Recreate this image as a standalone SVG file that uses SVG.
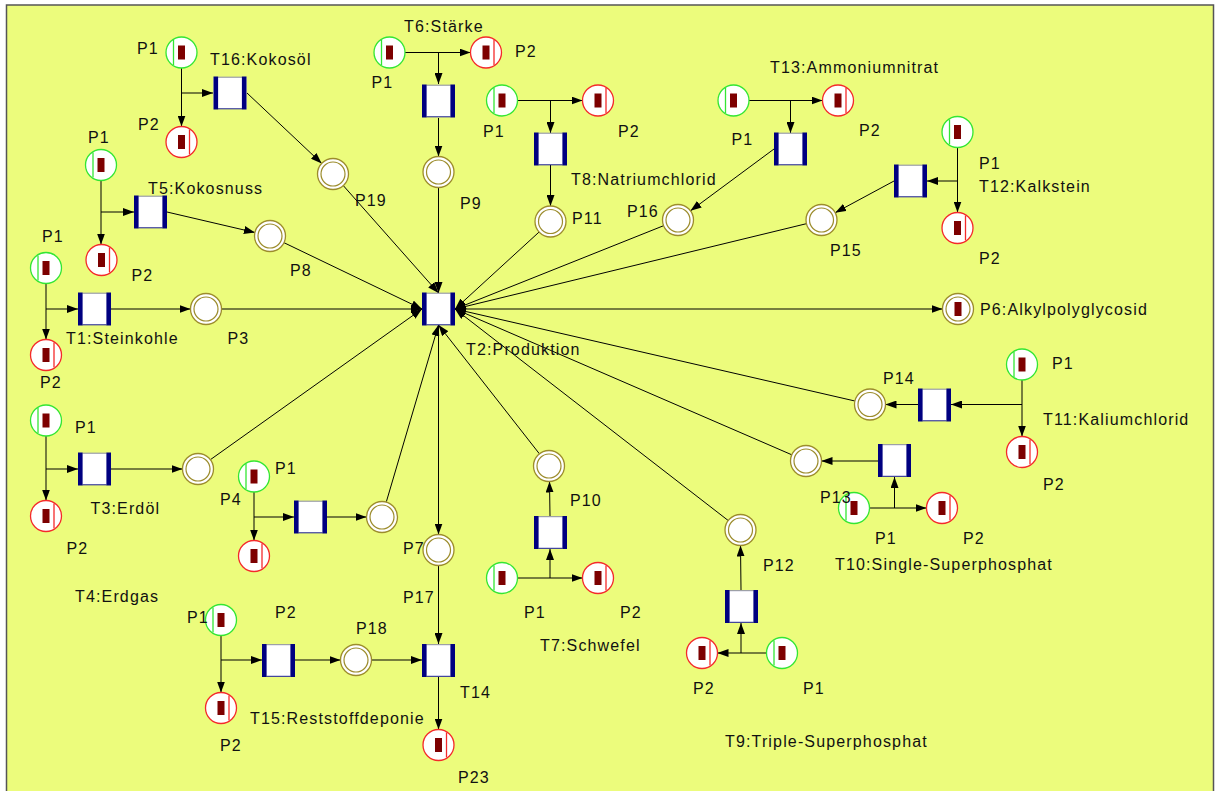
<svg xmlns="http://www.w3.org/2000/svg" width="1216" height="791" viewBox="0 0 1216 791">
  <style>
    .bg { fill: #ECFC7C; stroke: #555; stroke-width: 1.5; }
    .arc { fill: none; stroke: #000; stroke-width: 1; marker-end: url(#ah); }
    .lbl { font-family: "Liberation Sans", Arial, sans-serif; font-size: 16px; letter-spacing: 1.15px; fill: #111; }
    .ring { fill: #fff; stroke: #9c8c2c; stroke-width: 1.3; }
    .ring2 { fill: none; stroke: #9c8c2c; stroke-width: 1.2; }
    .pg { fill: #fff; stroke: #33e633; stroke-width: 1.3; }
    .pr { fill: #fff; stroke: #f42a2a; stroke-width: 1.3; }
    .tok { fill: #7d0000; }
    .tbox { fill: #fff; }
    .tbar { fill: #000080; }
  </style>
  <defs>
    <marker id="ah" markerUnits="userSpaceOnUse" markerWidth="11" markerHeight="8" refX="11" refY="4" orient="auto">
      <path d="M0,0 L11,4 L0,8 Z" fill="#000"/>
    </marker>
    <!-- marked start place: green ring, bar on the left, one token -->
    <g id="placeGreen">
      <circle r="15.5" class="pg"/>
      <line x1="-8" y1="-12.5" x2="-8" y2="12.5" stroke="#33e633" stroke-width="1.3"/>
      <rect x="-3.5" y="-7" width="7" height="14" class="tok"/>
    </g>
    <!-- marked end place: red ring, bar on the right, one token -->
    <g id="placeRed">
      <circle r="15.5" class="pr"/>
      <line x1="8" y1="-12.5" x2="8" y2="12.5" stroke="#f42a2a" stroke-width="1.3"/>
      <rect x="-3.5" y="-7" width="7" height="14" class="tok"/>
    </g>
    <!-- intermediate place: double olive ring -->
    <g id="placeEmpty">
      <circle r="15.5" class="ring"/>
      <circle r="12" class="ring2"/>
    </g>
    <g id="placeProduct">
      <circle r="15.5" class="ring"/>
      <circle r="12" class="ring2"/>
      <rect x="-3.5" y="-7" width="7" height="14" class="tok"/>
    </g>
    <!-- transition box with navy side bars -->
    <g id="trans">
      <rect x="-16.5" y="-15.5" width="33" height="31" class="tbox"/>
      <line x1="-12" y1="-15.8" x2="12" y2="-15.8" stroke="#8a8ab0" stroke-width="1"/>
      <line x1="-12" y1="15.8" x2="12" y2="15.8" stroke="#1a1aa0" stroke-width="1"/>
      <rect x="-16.5" y="-16.5" width="4.6" height="33" class="tbar"/>
      <rect x="11.9" y="-16.5" width="4.6" height="33" class="tbar"/>
    </g>
  </defs>

  <rect x="0" y="0" width="1216" height="791" fill="#fff"/>
  <rect x="6.5" y="5" width="1207" height="800" class="bg"/>

  <g id="connectors">
    <!-- T16 Kokosöl -->
    <line class="arc" x1="181.5" y1="68" x2="181.5" y2="126.5"/>
    <line class="arc" x1="181.5" y1="93" x2="213" y2="93"/>
    <line class="arc" x1="247" y1="93" x2="321.7" y2="163.4"/>
    <line class="arc" x1="343.3" y1="185.6" x2="438.5" y2="293"/>
    <!-- T6 Stärke -->
    <line class="arc" x1="405" y1="52.5" x2="470.5" y2="52.5"/>
    <line class="arc" x1="438.5" y1="52.5" x2="438.5" y2="84"/>
    <line class="arc" x1="438.5" y1="118" x2="438.5" y2="156.5"/>
    <line class="arc" x1="438.5" y1="187.5" x2="438.5" y2="293"/>
    <!-- T8 Natriumchlorid -->
    <line class="arc" x1="517.5" y1="100.5" x2="582.5" y2="100.5"/>
    <line class="arc" x1="550.5" y1="100.5" x2="550.5" y2="133"/>
    <line class="arc" x1="550.5" y1="165" x2="550.5" y2="206"/>
    <line class="arc" x1="539.1" y1="232" x2="455" y2="309"/>
    <!-- T13 Ammoniumnitrat -->
    <line class="arc" x1="749" y1="100.5" x2="822.5" y2="100.5"/>
    <line class="arc" x1="790.5" y1="100.5" x2="790.5" y2="133"/>
    <line class="arc" x1="774" y1="149" x2="690.5" y2="210.8"/>
    <line class="arc" x1="663.6" y1="225.7" x2="455" y2="309"/>
    <!-- T12 Kalkstein -->
    <line class="arc" x1="957.5" y1="147.5" x2="957.5" y2="212.5"/>
    <line class="arc" x1="957.5" y1="181" x2="927" y2="181"/>
    <line class="arc" x1="894" y1="181" x2="835.2" y2="212.7"/>
    <line class="arc" x1="806.4" y1="223.7" x2="455" y2="309"/>
    <!-- T5 Kokosnuss -->
    <line class="arc" x1="101" y1="180.5" x2="101" y2="244.5"/>
    <line class="arc" x1="101" y1="212" x2="134" y2="212"/>
    <line class="arc" x1="167" y1="212" x2="254.9" y2="232.5"/>
    <line class="arc" x1="284" y1="242.7" x2="422" y2="309"/>
    <!-- T1 Steinkohle -->
    <line class="arc" x1="46" y1="283.5" x2="46" y2="339.5"/>
    <line class="arc" x1="46" y1="309" x2="78" y2="309"/>
    <line class="arc" x1="111" y1="309" x2="190.5" y2="309"/>
    <line class="arc" x1="221.5" y1="309" x2="422" y2="309"/>
    <!-- T3 Erdöl -->
    <line class="arc" x1="46" y1="436" x2="46" y2="500.5"/>
    <line class="arc" x1="46" y1="469" x2="78" y2="469"/>
    <line class="arc" x1="111" y1="469" x2="182.5" y2="469"/>
    <line class="arc" x1="210.6" y1="459.5" x2="422" y2="309"/>
    <!-- T4 Erdgas -->
    <line class="arc" x1="254" y1="492" x2="254" y2="540.5"/>
    <line class="arc" x1="254" y1="517" x2="294" y2="517"/>
    <line class="arc" x1="327" y1="517" x2="366.5" y2="517"/>
    <line class="arc" x1="386.4" y1="501.6" x2="438.5" y2="325"/>
    <!-- T2 Produktion outputs -->
    <line class="arc" x1="455" y1="309" x2="942.5" y2="309"/>
    <line class="arc" x1="438.5" y1="325" x2="438.5" y2="534.5"/>
    <!-- T14 / T15 Reststoffdeponie -->
    <line class="arc" x1="438.5" y1="565.5" x2="438.5" y2="644"/>
    <line class="arc" x1="221" y1="635.5" x2="221" y2="692.5"/>
    <line class="arc" x1="221" y1="660" x2="262" y2="660"/>
    <line class="arc" x1="295" y1="660" x2="340.5" y2="660"/>
    <line class="arc" x1="371.5" y1="660" x2="422" y2="660"/>
    <line class="arc" x1="438.5" y1="677" x2="438.5" y2="729.5"/>
    <!-- T7 Schwefel -->
    <line class="arc" x1="517.5" y1="578" x2="582.5" y2="578"/>
    <line class="arc" x1="550" y1="578" x2="550" y2="549"/>
    <line class="arc" x1="550" y1="516" x2="549.5" y2="481.5"/>
    <line class="arc" x1="539.4" y1="453.8" x2="438.5" y2="325"/>
    <!-- T9 Triple-Superphosphat -->
    <line class="arc" x1="766.5" y1="653" x2="717.5" y2="653"/>
    <line class="arc" x1="741" y1="653" x2="741" y2="623"/>
    <line class="arc" x1="741" y1="590" x2="740.5" y2="545.5"/>
    <line class="arc" x1="728.2" y1="520.5" x2="455" y2="309"/>
    <!-- T10 Single-Superphosphat -->
    <line class="arc" x1="869.5" y1="508" x2="926.5" y2="508"/>
    <line class="arc" x1="894.5" y1="508" x2="894.5" y2="477"/>
    <line class="arc" x1="878" y1="461" x2="821.5" y2="461"/>
    <line class="arc" x1="791.8" y1="454.8" x2="455" y2="309"/>
    <!-- T11 Kaliumchlorid -->
    <line class="arc" x1="1022" y1="380" x2="1022" y2="436.5"/>
    <line class="arc" x1="1022" y1="404.5" x2="951" y2="404.5"/>
    <line class="arc" x1="918" y1="404.5" x2="885.5" y2="404.5"/>
    <line class="arc" x1="854.9" y1="401" x2="455" y2="309"/>
  </g>

  <!-- central transition -->
  <g id="T2">
    <use href="#trans" x="438.5" y="309"/>
    <text class="lbl" x="466" y="355">T2:Produktion</text>
  </g>
  <g id="P6">
    <use href="#placeProduct" x="958" y="309"/>
    <text class="lbl" x="980" y="315">P6:Alkylpolyglycosid</text>
  </g>

  <!-- T16 Kokosöl -->
  <g id="T16-P1"><use href="#placeGreen" x="181.5" y="52.5"/><text class="lbl" x="137" y="54">P1</text></g>
  <g id="T16-P2"><use href="#placeRed" x="181.5" y="142"/><text class="lbl" x="138" y="130">P2</text></g>
  <g id="T16"><use href="#trans" x="230" y="93"/><text class="lbl" x="210" y="65">T16:Kokosöl</text></g>
  <g id="P19"><use href="#placeEmpty" x="333" y="174"/><text class="lbl" x="355" y="206">P19</text></g>

  <!-- T6 Stärke -->
  <g id="T6-P1"><use href="#placeGreen" x="389.5" y="52.5"/><text class="lbl" x="371.5" y="88">P1</text></g>
  <g id="T6-P2"><use href="#placeRed" x="486" y="52.5"/><text class="lbl" x="515" y="57">P2</text></g>
  <g id="T6"><use href="#trans" x="438.5" y="101"/><text class="lbl" x="404" y="32">T6:Stärke</text></g>
  <g id="P9"><use href="#placeEmpty" x="438.5" y="172"/><text class="lbl" x="460" y="209">P9</text></g>

  <!-- T8 Natriumchlorid -->
  <g id="T8-P1"><use href="#placeGreen" x="502" y="100.5"/><text class="lbl" x="483" y="137">P1</text></g>
  <g id="T8-P2"><use href="#placeRed" x="598" y="100.5"/><text class="lbl" x="618" y="137">P2</text></g>
  <g id="T8"><use href="#trans" x="550.5" y="149"/><text class="lbl" x="571" y="185">T8:Natriumchlorid</text></g>
  <g id="P11"><use href="#placeEmpty" x="550.5" y="221.5"/><text class="lbl" x="572" y="224">P11</text></g>

  <!-- T13 Ammoniumnitrat -->
  <g id="T13-P1"><use href="#placeGreen" x="733.5" y="100.5"/><text class="lbl" x="731.5" y="145">P1</text></g>
  <g id="T13-P2"><use href="#placeRed" x="838" y="100.5"/><text class="lbl" x="859" y="136">P2</text></g>
  <g id="T13"><use href="#trans" x="790.5" y="149"/><text class="lbl" x="770" y="73">T13:Ammoniumnitrat</text></g>
  <g id="P16"><use href="#placeEmpty" x="678" y="220"/><text class="lbl" x="627" y="217">P16</text></g>

  <!-- T12 Kalkstein -->
  <g id="T12-P1"><use href="#placeGreen" x="957.5" y="132"/><text class="lbl" x="979" y="169">P1</text></g>
  <g id="T12-P2"><use href="#placeRed" x="957.5" y="228"/><text class="lbl" x="979" y="264">P2</text></g>
  <g id="T12"><use href="#trans" x="910.5" y="181"/><text class="lbl" x="979" y="192">T12:Kalkstein</text></g>
  <g id="P15"><use href="#placeEmpty" x="821.5" y="220"/><text class="lbl" x="830" y="256">P15</text></g>

  <!-- T5 Kokosnuss -->
  <g id="T5-P1"><use href="#placeGreen" x="101" y="165"/><text class="lbl" x="88" y="143">P1</text></g>
  <g id="T5-P2"><use href="#placeRed" x="101.5" y="260"/><text class="lbl" x="131.5" y="281">P2</text></g>
  <g id="T5"><use href="#trans" x="150.5" y="212"/><text class="lbl" x="148" y="194">T5:Kokosnuss</text></g>
  <g id="P8"><use href="#placeEmpty" x="270" y="236"/><text class="lbl" x="290" y="276">P8</text></g>

  <!-- T1 Steinkohle -->
  <g id="T1-P1"><use href="#placeGreen" x="46" y="268"/><text class="lbl" x="42" y="242">P1</text></g>
  <g id="T1-P2"><use href="#placeRed" x="46" y="355"/><text class="lbl" x="40" y="388">P2</text></g>
  <g id="T1"><use href="#trans" x="94.5" y="309"/><text class="lbl" x="66" y="344">T1:Steinkohle</text></g>
  <g id="P3"><use href="#placeEmpty" x="206" y="309"/><text class="lbl" x="227.5" y="344">P3</text></g>

  <!-- T3 Erdöl -->
  <g id="T3-P1"><use href="#placeGreen" x="46" y="420.5"/><text class="lbl" x="75" y="433">P1</text></g>
  <g id="T3-P2"><use href="#placeRed" x="46" y="516"/><text class="lbl" x="66.5" y="554">P2</text></g>
  <g id="T3"><use href="#trans" x="94.5" y="469"/><text class="lbl" x="90.5" y="514">T3:Erdöl</text></g>
  <g id="T3-out"><use href="#placeEmpty" x="198" y="469"/></g>

  <!-- T4 Erdgas -->
  <g id="T4-P1"><use href="#placeGreen" x="254" y="476.5"/><text class="lbl" x="275" y="474">P1</text></g>
  <g id="T4-P2"><use href="#placeRed" x="254" y="556"/></g>
  <g id="T4"><use href="#trans" x="310.5" y="517"/><text class="lbl" x="75" y="602">T4:Erdgas</text></g>
  <g id="P4"><use href="#placeEmpty" x="382" y="517"/><text class="lbl" x="220" y="505">P4</text></g>

  <!-- waste path: P7, T14, T15 -->
  <g id="P7"><use href="#placeEmpty" x="438.5" y="550"/><text class="lbl" x="403" y="554">P7</text></g>
  <g id="T14"><use href="#trans" x="438.5" y="660.5"/><text class="lbl" x="403" y="603">P17</text><text class="lbl" x="460" y="698">T14</text></g>
  <g id="P23"><use href="#placeRed" x="438.5" y="745"/><text class="lbl" x="458" y="783">P23</text></g>
  <g id="T15-P1"><use href="#placeGreen" x="221" y="620"/><text class="lbl" x="187" y="623">P1</text></g>
  <g id="T15-P2"><use href="#placeRed" x="221" y="708"/><text class="lbl" x="275" y="618">P2</text><text class="lbl" x="220" y="751">P2</text></g>
  <g id="T15"><use href="#trans" x="278.5" y="660.5"/><text class="lbl" x="250" y="724">T15:Reststoffdeponie</text></g>
  <g id="P18"><use href="#placeEmpty" x="356" y="660"/><text class="lbl" x="356" y="634">P18</text></g>

  <!-- T7 Schwefel -->
  <g id="T7-P1"><use href="#placeGreen" x="502" y="578"/><text class="lbl" x="524" y="618">P1</text></g>
  <g id="T7-P2"><use href="#placeRed" x="598" y="578"/><text class="lbl" x="620" y="618">P2</text></g>
  <g id="T7"><use href="#trans" x="550.5" y="532.5"/><text class="lbl" x="540" y="651">T7:Schwefel</text></g>
  <g id="P10"><use href="#placeEmpty" x="549" y="466"/><text class="lbl" x="570" y="506">P10</text></g>

  <!-- T9 Triple-Superphosphat -->
  <g id="T9-P1"><use href="#placeGreen" x="782" y="653"/><text class="lbl" x="803" y="694">P1</text></g>
  <g id="T9-P2"><use href="#placeRed" x="702" y="653"/><text class="lbl" x="693" y="694">P2</text></g>
  <g id="T9"><use href="#trans" x="741.5" y="606.5"/><text class="lbl" x="725" y="747">T9:Triple-Superphosphat</text></g>
  <g id="P12"><use href="#placeEmpty" x="740.5" y="530"/><text class="lbl" x="763" y="571">P12</text></g>

  <!-- T10 Single-Superphosphat -->
  <g id="T10-P1"><use href="#placeGreen" x="854" y="508"/><text class="lbl" x="875" y="544">P1</text></g>
  <g id="T10-P2"><use href="#placeRed" x="942" y="508"/><text class="lbl" x="963" y="544">P2</text></g>
  <g id="T10"><use href="#trans" x="894.5" y="460.5"/><text class="lbl" x="835" y="570">T10:Single-Superphosphat</text></g>
  <g id="P13"><use href="#placeEmpty" x="806" y="461"/><text class="lbl" x="820" y="503">P13</text></g>

  <!-- T11 Kaliumchlorid -->
  <g id="T11-P1"><use href="#placeGreen" x="1022" y="364.5"/><text class="lbl" x="1052" y="369">P1</text></g>
  <g id="T11-P2"><use href="#placeRed" x="1022" y="452"/><text class="lbl" x="1043" y="490">P2</text></g>
  <g id="T11"><use href="#trans" x="934.5" y="405"/><text class="lbl" x="1043" y="425">T11:Kaliumchlorid</text></g>
  <g id="P14"><use href="#placeEmpty" x="870" y="404.5"/><text class="lbl" x="883" y="384">P14</text></g>
</svg>
